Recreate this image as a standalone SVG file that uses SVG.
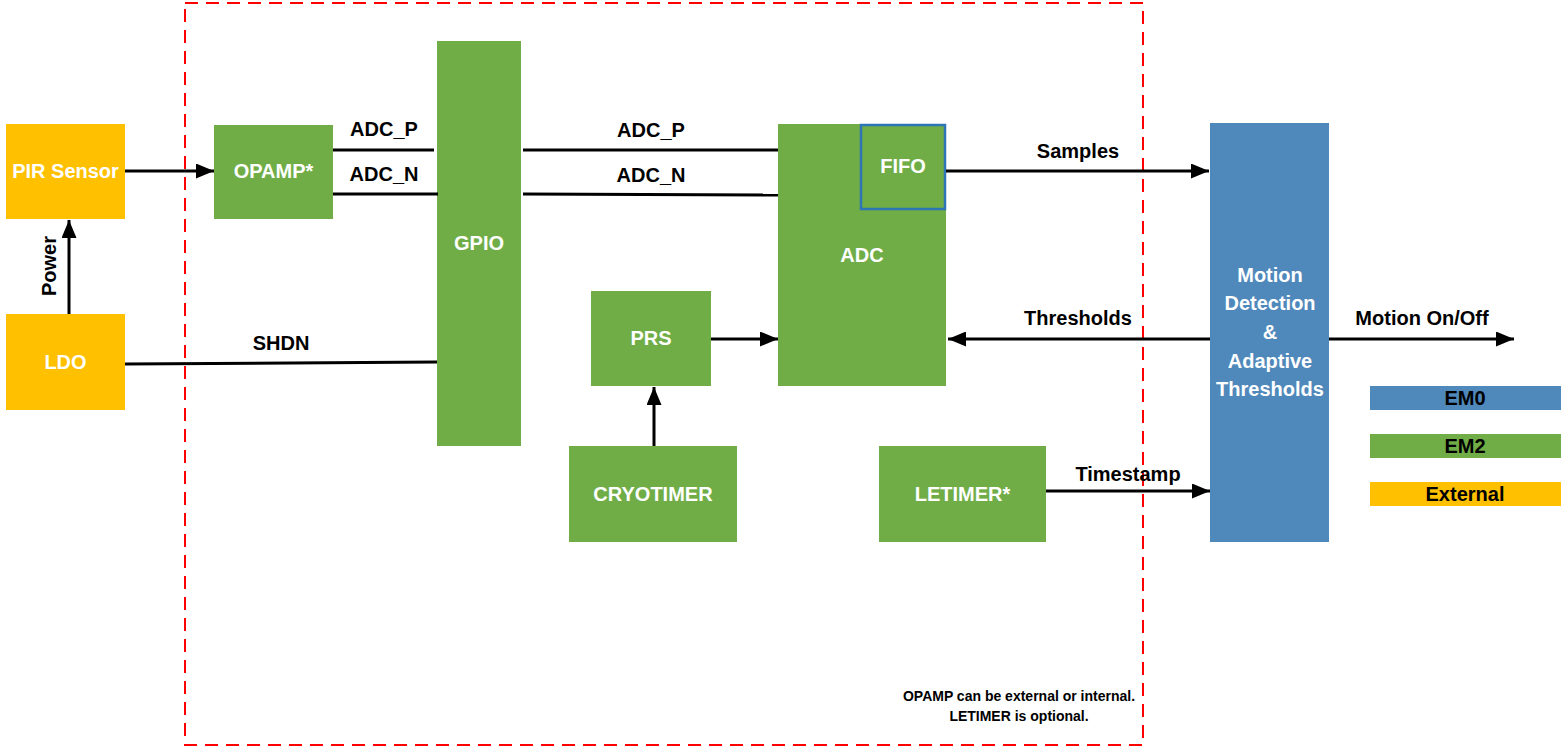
<svg xmlns="http://www.w3.org/2000/svg" width="1567" height="754" viewBox="0 0 1567 754">
<style>
.g{fill:#70AD47}
.y{fill:#FFC000}
.b{fill:#4F88BB}
.wt{fill:#fff;font-family:"Liberation Sans",Arial,sans-serif;font-weight:bold;font-size:20px;text-anchor:middle}
.bt{fill:#000;font-family:"Liberation Sans",Arial,sans-serif;font-weight:bold;font-size:20px;text-anchor:middle}
.ln{stroke:#000;stroke-width:3;fill:none}
.note{fill:#000;font-family:"Liberation Sans",Arial,sans-serif;font-weight:bold;font-size:14px;text-anchor:middle}
</style>
<defs>
<marker id="ah" markerWidth="6" markerHeight="5" refX="6" refY="2.5" orient="auto" markerUnits="strokeWidth">
<path d="M0,0 L6,2.5 L0,5 Z" fill="#000"/>
</marker>
</defs>
<rect width="1567" height="754" fill="#fff"/>
<rect id="boundary" x="185" y="3" width="958" height="742" fill="none" stroke="#FF0000" stroke-width="2" stroke-dasharray="13,8"/>

<g id="pir"><rect class="y" x="6" y="124" width="119" height="95"/><text class="wt" x="65.5" y="178">PIR Sensor</text></g>
<g id="ldo"><rect class="y" x="6" y="314" width="119" height="96"/><text class="wt" x="65.5" y="369">LDO</text></g>
<g id="opamp"><rect class="g" x="214" y="125" width="119" height="94"/><text class="wt" x="273.5" y="178">OPAMP*</text></g>
<g id="gpio"><rect class="g" x="437" y="41" width="84" height="405"/><text class="wt" x="479" y="250">GPIO</text></g>
<g id="adc"><rect class="g" x="778" y="124" width="168" height="262"/><text class="wt" x="862" y="262">ADC</text></g>
<g id="fifo"><rect class="g" x="861" y="125" width="84" height="84" stroke="#2E75B6" stroke-width="2.5"/><text class="wt" x="903" y="173">FIFO</text></g>
<g id="prs"><rect class="g" x="591" y="291" width="120" height="95"/><text class="wt" x="651" y="345">PRS</text></g>
<g id="cryotimer"><rect class="g" x="569" y="446" width="168" height="96"/><text class="wt" x="653" y="501">CRYOTIMER</text></g>
<g id="letimer"><rect class="g" x="879" y="446" width="167" height="96"/><text class="wt" x="962.5" y="501">LETIMER*</text></g>
<g id="motion"><rect class="b" x="1210" y="123" width="119" height="419"/>
<text class="wt" x="1270" y="282">Motion</text>
<text class="wt" x="1270" y="310">Detection</text>
<text class="wt" x="1270" y="339">&amp;</text>
<text class="wt" x="1270" y="368">Adaptive</text>
<text class="wt" x="1270" y="396">Thresholds</text>
</g>
<g id="legend-em0"><rect class="b" x="1370" y="386" width="191" height="24"/><text class="bt" x="1465" y="405">EM0</text></g>
<g id="legend-em2"><rect class="g" x="1370" y="434" width="191" height="24"/><text class="bt" x="1465" y="453">EM2</text></g>
<g id="legend-ext"><rect class="y" x="1370" y="482" width="191" height="24"/><text class="bt" x="1465" y="501">External</text></g>

<g id="connectors">
<line class="ln" x1="125" y1="171" x2="214" y2="171" marker-end="url(#ah)"/>
<line class="ln" x1="69" y1="314" x2="69" y2="220" marker-end="url(#ah)"/>
<line class="ln" x1="333" y1="150" x2="434" y2="150"/>
<line class="ln" x1="333" y1="194" x2="438" y2="194"/>
<line class="ln" x1="523" y1="150" x2="778" y2="150"/>
<line class="ln" x1="523" y1="194" x2="778" y2="195"/>
<line class="ln" x1="125" y1="364" x2="437" y2="362"/>
<line class="ln" x1="946" y1="171" x2="1209" y2="171" marker-end="url(#ah)"/>
<line class="ln" x1="1210" y1="339" x2="948" y2="339" marker-end="url(#ah)"/>
<line class="ln" x1="711" y1="339" x2="778" y2="339" marker-end="url(#ah)"/>
<line class="ln" x1="654" y1="446" x2="654" y2="387" marker-end="url(#ah)"/>
<line class="ln" x1="1046" y1="491" x2="1210" y2="491" marker-end="url(#ah)"/>
<line class="ln" x1="1329" y1="339" x2="1514" y2="339" marker-end="url(#ah)"/>
<text class="bt" transform="translate(56,266) rotate(-90)">Power</text>
<text class="bt" x="384" y="136">ADC_P</text>
<text class="bt" x="384" y="181">ADC_N</text>
<text class="bt" x="651" y="137">ADC_P</text>
<text class="bt" x="651" y="182">ADC_N</text>
<text class="bt" x="281" y="350">SHDN</text>
<text class="bt" x="1078" y="158">Samples</text>
<text class="bt" x="1078" y="325">Thresholds</text>
<text class="bt" x="1128" y="481">Timestamp</text>
<text class="bt" x="1422" y="325">Motion On/Off</text>
</g>
<text class="note" x="1019" y="701">OPAMP can be external or internal.</text>
<text class="note" x="1019" y="721">LETIMER is optional.</text>
</svg>
